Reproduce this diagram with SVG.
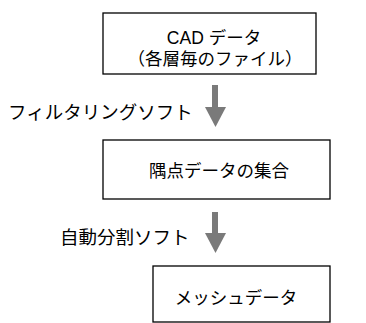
<svg xmlns="http://www.w3.org/2000/svg" width="366" height="323" viewBox="0 0 366 323">
<style>
.box{fill:#fff;stroke:#000;stroke-width:1.3}
.t{font-family:"Liberation Sans","Noto Sans CJK JP",sans-serif;font-size:17.5px;fill:#000}
.l{font-family:"Liberation Sans","Noto Sans CJK JP",sans-serif;font-size:18.5px;fill:#000}
.arr{fill:#7a7a7a}
</style>
<rect width="366" height="323" fill="#fff"/>
<g id="node-cad">
<rect class="box" x="103" y="13" width="213" height="61"/>
<text class="t" x="214" y="43.5" text-anchor="middle">CAD データ</text>
<text class="t" x="215" y="64.5" text-anchor="middle">（各層毎のファイル）</text>
</g>
<g id="node-points">
<rect class="box" x="103" y="140" width="227" height="59"/>
<text class="t" x="219" y="176.5" text-anchor="middle">隅点データの集合</text>
</g>
<g id="node-mesh">
<rect class="box" x="153" y="266" width="177" height="56"/>
<text class="t" x="236" y="303.5" text-anchor="middle">メッシュデータ</text>
</g>
<g id="connectors">
<g id="arrow1">
<rect class="arr" x="212" y="85" width="6" height="22"/>
<polygon class="arr" points="205,107 226,107 215.5,127"/>
<text class="l" x="8" y="118.5">フィルタリングソフト</text>
</g>
<g id="arrow2">
<rect class="arr" x="212" y="212" width="6" height="21"/>
<polygon class="arr" points="205,233 226,233 215.5,253"/>
<text class="l" x="60" y="243.5">自動分割ソフト</text>
</g>
</g>
</svg>
